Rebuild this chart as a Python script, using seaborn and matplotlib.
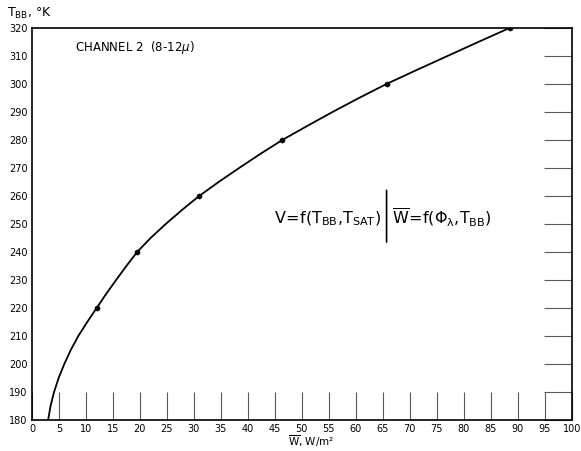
import matplotlib
matplotlib.use("Agg")
import matplotlib.pyplot as plt
import seaborn as sns
import pandas as pd

# Curve (temperature vs. mean irradiance), every 5 K
curve_T = [180, 185, 190, 195, 200, 205, 210, 215, 220, 225, 230, 235, 240, 245,
           250, 255, 260, 265, 270, 275, 280, 285, 290, 295, 300, 305, 310, 315, 320]
curve_W = [3.0, 3.45, 4.1, 4.95, 6.0, 7.2, 8.6, 10.25, 12.0, 13.75, 15.6, 17.5, 19.5, 22.0,
           24.8, 27.8, 31.0, 34.6, 38.4, 42.3, 46.4, 51.0, 55.7, 60.6, 65.7, 71.3, 77.0, 82.7, 88.5]

# Marked points
pts_T = [220, 240, 260, 280, 300, 320]
pts_W = [12.0, 19.5, 31.0, 46.4, 65.7, 88.5]

x_ticks = list(range(0, 101, 5))
y_ticks = list(range(180, 321, 10))

sns.set_theme(style="white")
plt.rcParams['font.family'] = ['DejaVu Sans']
plt.rcParams['text.color'] = 'black'
plt.rcParams['xtick.color'] = 'black'
plt.rcParams['ytick.color'] = 'black'

fig = plt.figure(figsize=(5.81, 4.51), dpi=100)
ax = fig.add_axes([0.055, 0.069, 0.929, 0.869])

curve = pd.DataFrame({"W": curve_W, "T": curve_T})
pts = pd.DataFrame({"W": pts_W, "T": pts_T})

sns.lineplot(data=curve, x="W", y="T", ax=ax, color="black", lw=1.3, sort=False)
sns.scatterplot(data=pts, x="W", y="T", ax=ax, color="black", s=14, edgecolor="black", zorder=5)

ax.set_xlim(0, 100)
ax.set_ylim(180, 320)
ax.set_xticks(x_ticks)
ax.set_yticks(y_ticks)
ax.set_xticklabels([str(v) for v in x_ticks], fontsize=7, color="black")
ax.set_yticklabels([str(v) for v in y_ticks], fontsize=7, color="black")
ax.set_xlabel("")
ax.set_ylabel("")

ax.tick_params(axis="x", direction="in", length=20, width=0.8, color="0.35",
               bottom=True, top=False, pad=3)
ax.tick_params(axis="y", direction="in", length=20, width=0.8, color="0.35",
               left=False, right=True, labelleft=True, labelright=False, pad=3)

for s in ax.spines.values():
    s.set_color("black")
    s.set_linewidth(1.2)

fig.text(0.012, 0.953, r"T$_{\mathrm{BB}}$, °K", fontsize=9, ha="left", va="bottom", color="black")
fig.text(0.535, 0.004, r"$\overline{\mathrm{W}}$, W/m²", fontsize=7.5, ha="center", va="bottom", color="black")

ax.text(8, 313, "CHANNEL 2  (8-12$\\mu$)", fontsize=8.5, ha="left", va="center", color="black")
ax.text(64.6, 252, r"$\mathrm{V\!=\!f(T_{BB}{,}T_{SAT})}$",
        fontsize=11.5, ha="right", va="center", color="black")
ax.annotate("", xy=(65.7, 243.5), xytext=(65.7, 262),
            arrowprops=dict(arrowstyle="-", lw=1.2, color="black",
                            shrinkA=0, shrinkB=0))
ax.text(66.7, 252, r"$\mathrm{\overline{W}\!=\!f(\Phi_{\lambda}{,}T_{BB})}$",
        fontsize=11.5, ha="left", va="center", color="black")

fig.savefig("out.png", dpi=100)
